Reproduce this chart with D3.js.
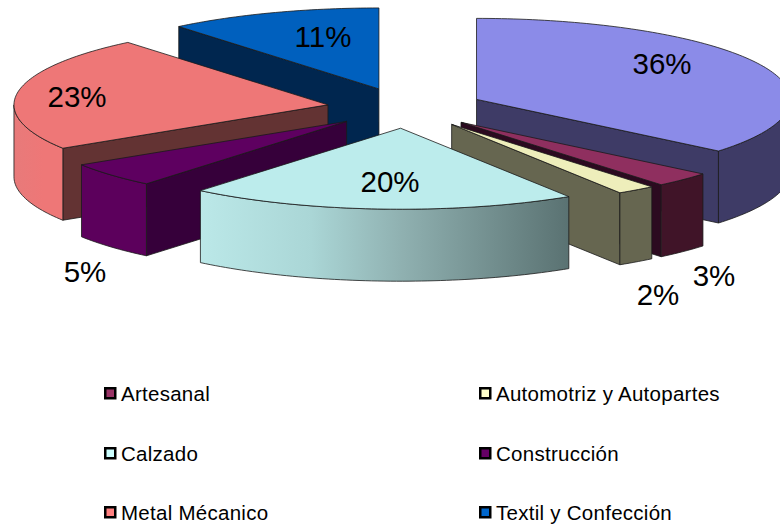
<!DOCTYPE html>
<html>
<head>
<meta charset="utf-8">
<script src="https://cdn.jsdelivr.net/npm/d3@7"></script>
<style>
html,body{margin:0;padding:0;background:#fff}
svg{display:block}
text{font-family:"Liberation Sans",Arial,sans-serif;fill:#000}
</style>
</head>
<body>
<svg id="chart" width="780" height="527"></svg>
<script>
// ---- data (clockwise from 12 o'clock) ----
const sliceNames  = ["Sin leyenda","Artesanal","Automotriz y Autopartes","Calzado","Construcción","Metal Mécanico","Textil y Confección"];
const sliceValues = [36,3,2,20,5,23,11];
const legendNames = ["Artesanal","Automotriz y Autopartes","Calzado","Construcción","Metal Mécanico","Textil y Confección"];

// ---- styles ----
const topColors    = ["#8b8be8","#8f2f5f","#eeeebb","#bcecec","#5e0060","#ee7777","#0060be"];
const wallColors   = ["#3e3b66","#2c0a20","#666650","#5a7272","#36003a","#633333","#00264f"];
const sideStops    = [
  [["0","#3e3b66"],["1","#3e3b66"]],
  [["0","#401428"],["1","#401428"]],
  [["0","#666650"],["1","#666650"]],
  [["0","#bbe8e8"],["0.3","#aad6d6"],["0.55","#8fb0b0"],["1","#5a7272"]],
  [["0","#5c005c"],["1","#5c005c"]],
  [["0","#e87a7a"],["0.6","#ee7777"],["1","#ee7777"]],
  [["0","#00264f"],["1","#00264f"]]
];
const legendFills  = ["#993366","#ffffcc","#ccffff","#660066","#ff8080","#0066cc"];

// ---- layout ----
const W = 780, H = 527;
const center = {x:405.5, y:108};
const rx = 314, ry = 81, depth = 72, explode = 0.25;
const labelAt = [[662,63],[714,275],[658,294],[390,181],[85,271],[77,96],[323,36]];
const legendCols = [104,479], legendRows = [387,447,506];

const svg = d3.select("#chart");
const defs = svg.append("defs");

const arcs = d3.pie().sort(null).startAngle(0).endAngle(2*Math.PI)(sliceValues);

const pieces = arcs.map((a,i)=>{
  const mid = (a.startAngle+a.endAngle)/2;
  return {i, a0:a.startAngle, a1:a.endAngle, mid,
    ax:center.x + rx*explode*Math.sin(mid),
    ay:center.y - ry*explode*Math.cos(mid)};
}).sort((p,q)=>(-Math.cos(p.mid))-(-Math.cos(q.mid)));

const line = d3.line();
const rim = (p,t,dz=0)=>[p.ax+rx*Math.sin(t), p.ay-ry*Math.cos(t)+dz];
const sample = (t0,t1)=>{
  const n = Math.max(2,Math.ceil((t1-t0)/0.02));
  return d3.range(n+1).map(k=>t0+(t1-t0)*k/n);
};

const stroke = {color:"#1a1a1a", width:0.8};
const g = svg.append("g").attr("stroke",stroke.color).attr("stroke-width",stroke.width).attr("stroke-linejoin","round");

pieces.forEach(p=>{
  const slice = g.append("g").attr("class","slice");

  // radial wall
  const walls = [];
  if (Math.sin(p.a0) < 0) walls.push(p.a0);
  if (Math.sin(p.a1) > 0) walls.push(p.a1);
  walls.forEach(t=>{
    const o=[p.ax,p.ay], e=rim(p,t);
    slice.append("path")
      .attr("d",line([o,e,[e[0],e[1]+depth],[o[0],o[1]+depth]])+"Z")
      .attr("fill",wallColors[p.i]);
  });

  // outer curved side
  const s0=Math.max(p.a0,Math.PI/2), s1=Math.min(p.a1,1.5*Math.PI);
  if (s1>s0){
    const id="side"+p.i;
    const lg=defs.append("linearGradient").attr("id",id).attr("x1",0).attr("x2",1).attr("y1",0).attr("y2",0);
    sideStops[p.i].forEach(st=>lg.append("stop").attr("offset",st[0]).attr("stop-color",st[1]));
    const ts=sample(s0,s1);
    const pts=ts.map(t=>rim(p,t)).concat(ts.slice().reverse().map(t=>rim(p,t,depth)));
    slice.append("path").attr("d",line(pts)+"Z").attr("fill",`url(#${id})`);
  }

  // top face
  const topPts=[[p.ax,p.ay]].concat(sample(p.a0,p.a1).map(t=>rim(p,t)));
  slice.append("path").attr("d",line(topPts)+"Z").attr("fill",topColors[p.i]);
});

// percentage labels
svg.append("g").selectAll("text").data(sliceValues).join("text")
  .attr("x",(d,i)=>labelAt[i][0]).attr("y",(d,i)=>labelAt[i][1])
  .attr("dy","0.36em").attr("text-anchor","middle")
  .attr("font-size",29.5).text(d=>d+"%");

// legend
const leg = svg.append("g").selectAll("g").data(legendNames).join("g")
  .attr("transform",(d,i)=>`translate(${legendCols[i%2]},${legendRows[Math.floor(i/2)]})`);
leg.append("rect").attr("x",1.25).attr("y",1.25).attr("width",10).attr("height",10)
  .attr("fill",(d,i)=>legendFills[i]).attr("stroke","#000").attr("stroke-width",2.5);
leg.append("text").attr("x",17).attr("y",14).attr("font-size",20.5)
  .attr("letter-spacing",0.27).text(d=>d);
</script>
</body>
</html>
